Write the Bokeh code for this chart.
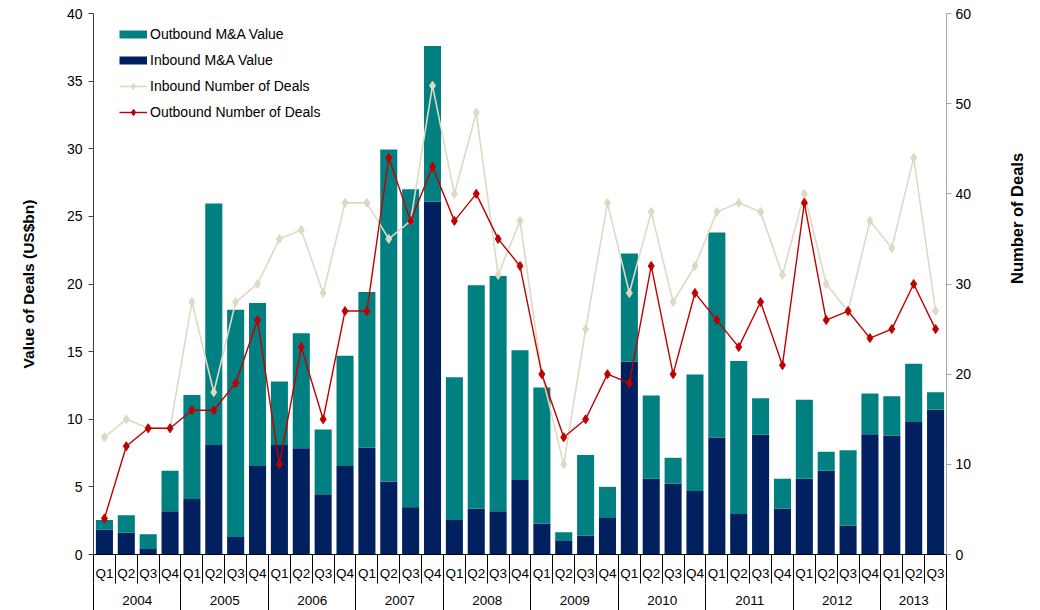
import math
import numpy as np
from bokeh.plotting import figure
from bokeh.models import (Range1d, LinearAxis, FixedTicker, Legend, LegendItem,
                          ColumnDataSource)
from bokeh.embed import file_html
from bokeh.resources import INLINE

years = ["2004", "2005", "2006", "2007", "2008", "2009", "2010", "2011", "2012", "2013"]
quarters_per_year = [4, 4, 4, 4, 4, 4, 4, 4, 4, 3]
quarter_names = ["Q1", "Q2", "Q3", "Q4"]

inbound_value = [1.85, 1.6, 0.4, 3.2, 4.1, 8.1, 1.3, 6.55, 8.1, 7.85, 4.45, 6.55,
                 7.9, 5.4, 3.5, 26.1, 2.55, 3.4, 3.2, 5.5, 2.3, 1.0, 1.4, 2.7,
                 14.25, 5.6, 5.25, 4.7, 8.65, 3.0, 8.85, 3.4, 5.6, 6.2, 2.15, 8.9,
                 8.8, 9.8, 10.7]
outbound_value = [0.7, 1.3, 1.1, 3.0, 7.7, 17.85, 16.8, 12.05, 4.7, 8.5, 4.8, 8.15,
                  11.5, 24.55, 23.5, 11.5, 10.55, 16.5, 17.4, 9.6, 10.05, 0.65, 5.95, 2.3,
                  8.0, 6.15, 1.9, 8.6, 15.15, 11.3, 2.7, 2.2, 5.85, 1.4, 5.55, 3.0,
                  2.9, 4.3, 1.3]
inbound_deals = [13, 15, 14, 14, 28, 18, 28, 30, 35, 36, 29, 39, 39, 35, 37, 52,
                 40, 49, 31, 37, 20, 10, 25, 39, 29, 38, 28, 32, 38, 39, 38, 31,
                 40, 30, 27, 37, 34, 44, 27]
outbound_deals = [4, 12, 14, 14, 16, 16, 19, 26, 10, 23, 15, 27, 27, 44, 37, 43,
                  37, 40, 35, 32, 20, 13, 15, 20, 19, 32, 20, 29, 26, 23, 28, 21,
                  39, 26, 27, 24, 25, 30, 25]

TEAL = "#008080"
NAVY = "#002060"
BEIGE = "#ddd9c3"
RED = "#c00000"
FONT = "Liberation Sans"

n = len(inbound_value)
x = np.arange(n) + 0.5
inb = np.array(inbound_value)
outb = np.array(outbound_value)
src = ColumnDataSource(dict(x=x, inb=inb, top=inb + outb,
                            ind=inbound_deals, outd=outbound_deals))

p = figure(width=1040, height=610, output_backend="svg", toolbar_location=None,
           x_range=Range1d(0, n), y_range=Range1d(0, 40),
           min_border_left=93, min_border_right=94, min_border_top=13,
           min_border_bottom=56)
p.extra_y_ranges = {"deals": Range1d(0, 60)}
p.xaxis.visible = False
p.yaxis.visible = False
p.xgrid.visible = False
p.ygrid.visible = False
p.outline_line_color = None
p.background_fill_color = "white"
p.border_fill_color = "white"

# bars
p.vbar(x="x", bottom=0, top="inb", width=0.78, color=NAVY, line_color=None, source=src)
p.vbar(x="x", bottom="inb", top="top", width=0.78, color=TEAL, line_color=None, source=src)

# lines
l_in = p.line("x", "ind", source=src, y_range_name="deals", line_color=BEIGE, line_width=1.6)
s_in = p.scatter("x", "ind", source=src, y_range_name="deals", marker="diamond", size=9,
                 fill_color=BEIGE, line_color=BEIGE)
l_out = p.line("x", "outd", source=src, y_range_name="deals", line_color=RED, line_width=1.4)
s_out = p.scatter("x", "outd", source=src, y_range_name="deals", marker="diamond", size=9,
                  fill_color=RED, line_color=RED)

# legend proxies
px_out = p.line(x=[np.nan], y=[np.nan], line_color=TEAL, line_width=8)
px_in = p.line(x=[np.nan], y=[np.nan], line_color=NAVY, line_width=8)

legend = Legend(items=[
    LegendItem(label="Outbound M&A Value", renderers=[px_out]),
    LegendItem(label="Inbound M&A Value", renderers=[px_in]),
    LegendItem(label="Inbound Number of Deals", renderers=[l_in, s_in]),
    LegendItem(label="Outbound Number of Deals", renderers=[l_out, s_out]),
], location=(26, 434), border_line_color=None, background_fill_alpha=0,
    padding=0, margin=0, spacing=10, glyph_width=28, glyph_height=16,
    label_height=16, label_standoff=3, label_text_font=FONT,
    label_text_font_size="14px", label_text_color="black")
p.add_layout(legend)

# left axis
left = LinearAxis(ticker=FixedTicker(ticks=list(range(0, 41, 5)), minor_ticks=[]),
                  axis_label="Value of Deals (US$bn)")
left.axis_line_color = "#404040"
left.major_tick_line_color = "#404040"
left.major_tick_out = 5
left.major_tick_in = 0
left.minor_tick_line_color = None
left.major_label_standoff = 6
left.major_label_text_font = FONT
left.major_label_text_font_size = "14px"
left.major_label_text_color = "black"
left.axis_label_text_font = FONT
left.axis_label_text_font_size = "15.5px"
left.axis_label_text_font_style = "bold"
left.axis_label_text_color = "black"
left.axis_label_standoff = 27
p.add_layout(left, "left")

# right axis
right = LinearAxis(y_range_name="deals",
                   ticker=FixedTicker(ticks=list(range(0, 61, 10)), minor_ticks=[]),
                   axis_label="Number of Deals")
right.axis_line_color = "#a6a6a6"
right.major_tick_line_color = "#a6a6a6"
right.major_tick_out = 5
right.major_tick_in = 0
right.minor_tick_line_color = None
right.major_label_standoff = 4
right.major_label_text_font = FONT
right.major_label_text_font_size = "14px"
right.major_label_text_color = "black"
right.axis_label_text_font = FONT
right.axis_label_text_font_size = "16.5px"
right.axis_label_text_font_style = "bold"
right.axis_label_text_color = "black"
right.axis_label_orientation = math.pi / 2
right.axis_label_text_align = "center"
right.axis_label_standoff = 43
p.add_layout(right, "right")

# quarter axis
q_labels = []
for cnt in quarters_per_year:
    q_labels += quarter_names[:cnt]
q_ticks = [float(v) for v in x]
qaxis = LinearAxis(ticker=FixedTicker(ticks=q_ticks, minor_ticks=list(range(0, n + 1))))
qaxis.major_label_overrides = {t: lab for t, lab in zip(q_ticks, q_labels)}
qaxis.axis_line_color = "black"
qaxis.major_tick_line_color = None
qaxis.major_tick_out = 0
qaxis.major_tick_in = 0
qaxis.minor_tick_line_color = "black"
qaxis.minor_tick_out = 29
qaxis.minor_tick_in = 0
qaxis.major_label_standoff = -18
qaxis.major_label_text_font = FONT
qaxis.major_label_text_font_size = "13.5px"
qaxis.major_label_text_color = "black"
p.add_layout(qaxis, "below")

# year axis
bounds = [0] + list(np.cumsum(quarters_per_year))
y_ticks = [(bounds[i] + bounds[i + 1]) / 2 for i in range(len(years))]
yaxis2 = LinearAxis(ticker=FixedTicker(ticks=y_ticks, minor_ticks=[int(b) for b in bounds]))
yaxis2.major_label_overrides = {t: lab for t, lab in zip(y_ticks, years)}
yaxis2.axis_line_color = None
yaxis2.major_tick_line_color = None
yaxis2.major_tick_out = 0
yaxis2.major_tick_in = 0
yaxis2.minor_tick_line_color = "black"
yaxis2.minor_tick_out = 28
yaxis2.minor_tick_in = 0
yaxis2.major_label_standoff = -16
yaxis2.major_label_text_font = FONT
yaxis2.major_label_text_font_size = "13.5px"
yaxis2.major_label_text_color = "black"
p.add_layout(yaxis2, "below")

open("out.html", "w").write(file_html(p, INLINE))
